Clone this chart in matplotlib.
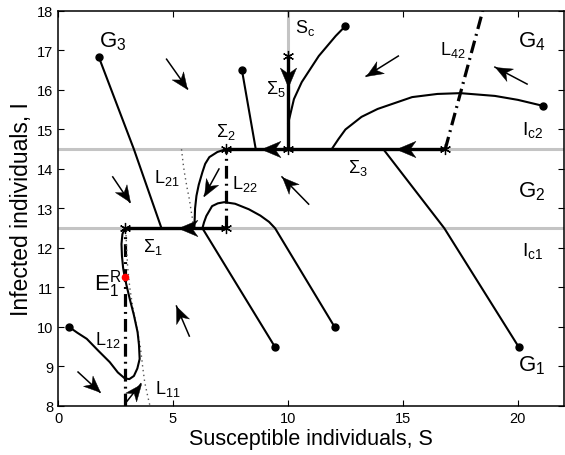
import numpy as np
import matplotlib.pyplot as plt
from matplotlib.path import Path
from matplotlib.markers import MarkerStyle
from matplotlib.transforms import Affine2D

plt.rcParams['font.family'] = ['Liberation Sans', 'DejaVu Sans']
plt.rcParams['mathtext.fontset'] = 'custom'
plt.rcParams['mathtext.rm'] = 'Liberation Sans'
plt.rcParams['mathtext.it'] = 'Liberation Sans'
plt.rcParams['mathtext.bf'] = 'Liberation Sans'

# thresholds
Ic1 = 12.5
Ic2 = 14.5
Sc = 10.0

# sliding segments (S ranges on the threshold lines)
sigma1_S = [2.9, 7.3]
sigma23_S = [7.3, 16.84]
sigma5_I = [14.5, 16.86]

# trajectories (S, I)
traj_S = [
    [1.77, 3.3, 4.5],
    [8.0, 8.6],
    [10.0, 10.09, 10.26, 10.6, 11.34, 12.08, 12.5],
    [11.9, 12.2, 12.5, 13.2, 13.9, 15.4, 16.5, 17.5, 19.0, 20.0, 21.08],
    [20.04, 16.8, 14.15],
    [12.03, 9.44, 9.18, 8.8, 8.3, 7.7, 7.23, 6.95, 6.7, 6.45, 6.35, 6.28],
    [9.44, 6.28],
    [7.3, 6.93, 6.58, 6.4, 6.28, 6.12, 6.02, 5.96, 5.93],
    [0.48, 0.85, 1.25, 1.75, 2.25, 2.6, 2.9, 3.1, 3.3, 3.45, 3.55, 3.52, 3.46,
     3.3, 3.12, 2.98, 2.9, 2.83, 2.78, 2.76, 2.8, 2.9],
]
traj_I = [
    [16.84, 14.5, 12.5],
    [16.5, 14.5],
    [15.14, 15.35, 15.77, 16.2, 16.86, 17.37, 17.62],
    [14.5, 14.76, 15.0, 15.32, 15.52, 15.82, 15.9, 15.92, 15.85, 15.75, 15.6],
    [9.49, 12.5, 14.5],
    [10.0, 12.5, 12.66, 12.82, 12.98, 13.12, 13.16, 13.13, 13.06, 12.81, 12.65, 12.5],
    [9.49, 12.5],
    [14.5, 14.43, 14.3, 14.13, 13.92, 13.6, 13.32, 13.0, 12.5],
    [10.0, 9.85, 9.7, 9.4, 9.11, 8.85, 8.7, 8.68, 8.76, 8.95, 9.19, 9.55, 9.87,
     10.3, 10.71, 11.05, 11.27, 11.5, 11.8, 12.1, 12.35, 12.5],
]

# initial points of trajectories
start_S = [1.77, 8.0, 12.5, 21.08, 20.04, 12.03, 9.44, 0.48]
start_I = [16.84, 16.5, 17.62, 15.6, 9.49, 10.0, 9.49, 10.0]

# pseudo-equilibria / switching points
star_S = [2.9, 7.3, 7.3, 10.0, 16.84, 10.0]
star_I = [12.5, 12.5, 14.5, 14.5, 14.5, 16.86]

# real equilibrium E1R
E1R = (2.9, 11.27)

# dash-dot lines L12, L22, L42
L12_S, L12_I = [2.9, 2.9], [8.0, 12.5]
L22_S, L22_I = [7.3, 7.3], [12.5, 14.5]
L42_S, L42_I = [16.84, 18.47], [14.5, 18.0]

# dotted curves L11, L21
L11_S = [2.95, 2.98, 3.03, 3.12, 3.25, 3.42, 3.58, 3.68, 3.77, 3.9, 4.0]
L11_I = [12.45, 12.0, 11.5, 11.0, 10.5, 10.0, 9.5, 9.0, 8.6, 8.25, 8.0]
L21_S = [5.37, 5.45, 5.5, 5.62, 5.71, 5.8, 5.85, 5.9]
L21_I = [14.5, 14.1, 13.9, 13.5, 13.24, 12.9, 12.73, 12.5]

# direction field arrows (tail -> head)
arrow_tail = [(4.72, 16.78), (2.38, 13.8), (7.0, 14.0), (10.9, 13.11), (14.8, 16.86),
              (20.4, 16.15), (5.71, 9.77), (0.87, 8.86), (3.0, 8.12)]
arrow_head = [(5.63, 16.03), (3.12, 13.16), (6.36, 13.32), (9.74, 13.8), (13.4, 16.35),
              (19.0, 16.58), (5.15, 10.53), (1.82, 8.35), (3.6, 8.56)]

# arrowheads along sliding segments (tail -> tip)
slide_tail = [(5.85, 12.5), (9.5, 14.5), (15.8, 14.5), (10.0, 16.53)]
slide_tip = [(5.2, 12.5), (8.83, 14.5), (14.7, 14.5), (10.0, 16.08)]

# notched arrowhead, tip at the origin pointing along +x
head_path = Path([(0, 0), (-1, 0.42), (-0.7, 0), (-1, -0.42), (0, 0)],
                 [Path.MOVETO, Path.LINETO, Path.LINETO, Path.LINETO, Path.CLOSEPOLY])


def draw_head(ax, tail, tip, size):
    p0 = ax.transData.transform(tail)
    p1 = ax.transData.transform(tip)
    ang = np.degrees(np.arctan2(p1[1] - p0[1], p1[0] - p0[0]))
    m = MarkerStyle(head_path, transform=Affine2D().rotate_deg(ang))
    ax.plot(tip[0], tip[1], marker=m, ms=size, color='k', mew=0.3, zorder=6,
            clip_on=False)


fig = plt.figure(figsize=(5.65, 4.56), dpi=100)
ax = fig.add_axes([0.1027, 0.1075, 0.8953, 0.8662])
ax.set_xlim(0, 22)
ax.set_ylim(8, 18)

gray = '#c4c4c4'
ax.plot([0, 22], [Ic1, Ic1], color=gray, lw=2.2, zorder=1)
ax.plot([0, 22], [Ic2, Ic2], color=gray, lw=2.2, zorder=1)
ax.plot([Sc, Sc], [Ic2, 18], color=gray, lw=2.2, zorder=1)

dashdot = (0, (4, 1.6, 0.6, 1.6))
ax.plot(L12_S, L12_I, color='k', lw=2.3, linestyle=dashdot, zorder=2)
ax.plot(L22_S, L22_I, color='k', lw=2.3, linestyle=dashdot, zorder=2)
ax.plot(L42_S, L42_I, color='k', lw=2.3, linestyle=dashdot, zorder=2)
ax.plot(L11_S, L11_I, color='#555555', lw=1.0, linestyle=(0, (1, 2.5)), zorder=2)
ax.plot(L21_S, L21_I, color='#555555', lw=1.0, linestyle=(0, (1, 2.5)), zorder=2)

for s, i in zip(traj_S, traj_I):
    ax.plot(s, i, color='k', lw=1.5, zorder=3, solid_capstyle='round')

ax.plot(sigma1_S, [Ic1, Ic1], color='k', lw=2.4, zorder=4)
ax.plot(sigma23_S, [Ic2, Ic2], color='k', lw=2.4, zorder=4)
ax.plot([Sc, Sc], sigma5_I, color='k', lw=2.4, zorder=4)

for t, h in zip(slide_tail, slide_tip):
    draw_head(ax, t, h, 28)

for t, h in zip(arrow_tail, arrow_head):
    ax.plot([t[0], h[0]], [t[1], h[1]], color='k', lw=1.1, zorder=5)
    draw_head(ax, t, h, 24)

ax.plot(start_S, start_I, 'o', color='k', ms=5, zorder=6)
ax.plot(star_S, star_I, marker=(6, 2, 0), ls='none', color='k', ms=8, mew=0.9, zorder=6)
ax.plot(*E1R, 'o', color='red', ms=4.5, zorder=7)

# region and curve labels
ax.text(1.8, 17.25, r'G$_3$', fontsize=16, va='center')
ax.text(20.0, 17.25, r'G$_4$', fontsize=16, va='center')
ax.text(20.0, 13.45, r'G$_2$', fontsize=16, va='center')
ax.text(20.0, 9.05, r'G$_1$', fontsize=16, va='center')
ax.text(20.2, 15.0, r'I$_{\mathrm{c2}}$', fontsize=14, va='center')
ax.text(20.2, 11.95, r'I$_{\mathrm{c1}}$', fontsize=14, va='center')
ax.text(10.3, 17.6, r'S$_\mathrm{c}$', fontsize=13, va='center')
ax.text(9.9, 16.05, r'$\Sigma_5$', fontsize=13, va='center', ha='right')
ax.text(7.3, 14.95, r'$\Sigma_2$', fontsize=13, va='center', ha='center')
ax.text(12.6, 14.05, r'$\Sigma_3$', fontsize=13, va='center')
ax.text(3.7, 12.05, r'$\Sigma_1$', fontsize=13, va='center')
ax.text(5.3, 13.8, r'L$_{21}$', fontsize=13, va='center', ha='right')
ax.text(7.55, 13.65, r'L$_{22}$', fontsize=13, va='center')
ax.text(16.6, 17.05, r'L$_{42}$', fontsize=13, va='center')
ax.text(1.6, 9.7, r'L$_{12}$', fontsize=13, va='center')
ax.text(4.2, 8.45, r'L$_{11}$', fontsize=13, va='center')
ax.text(1.55, 11.1, r'E$_1^{\mathrm{R}}$', fontsize=16, va='center')

ax.set_xticks([0, 5, 10, 15, 20])
ax.set_yticks(np.arange(8, 19, 1))
ax.tick_params(direction='in', top=True, right=True, length=4, width=0.8, labelsize=10.5)
for sp in ax.spines.values():
    sp.set_linewidth(1.1)
ax.set_xlabel('Susceptible individuals, S', fontsize=15.5, labelpad=2)
ax.set_ylabel('Infected individuals, I', fontsize=16.5, labelpad=3)

fig.savefig('out.png', dpi=100)
